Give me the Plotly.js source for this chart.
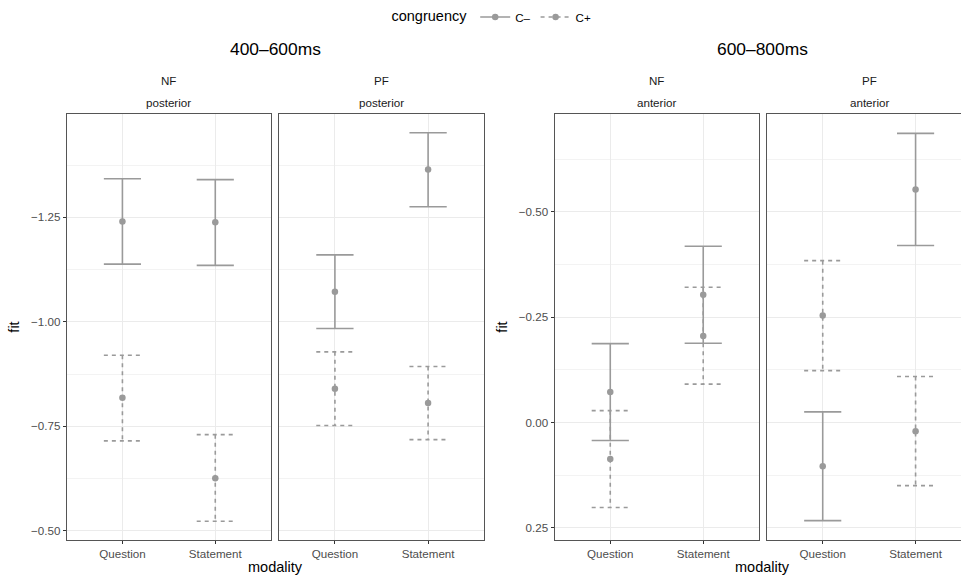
<!DOCTYPE html>
<html>
<head>
<meta charset="utf-8">
<script src="https://cdn.plot.ly/plotly-3.0.1.min.js"></script>
<style>html,body{margin:0;padding:0;background:#fff;}#chart{width:961px;height:578px;}</style>
</head>
<body>
<div id="chart"></div>
<script>
// ---- data ----
const modalities = ["Question", "Statement"];
const congruencyLevels = ["C–", "C+"];
const windowTitles = ["400–600ms", "600–800ms"];
const stripTop = ["NF", "PF", "NF", "PF"];
const stripBottom = ["posterior", "posterior", "anterior", "anterior"];
const yTicks400 = [-1.25, -1.00, -0.75, -0.50];
const yTicks600 = [-0.50, -0.25, 0.00, 0.25];

// 400-600ms, NF, posterior
const nf400_cm_fit = [-1.240, -1.238];
const nf400_cm_lo  = [-1.342, -1.340];
const nf400_cm_hi  = [-1.138, -1.135];
const nf400_cp_fit = [-0.818, -0.626];
const nf400_cp_lo  = [-0.920, -0.730];
const nf400_cp_hi  = [-0.715, -0.523];
// 400-600ms, PF, posterior
const pf400_cm_fit = [-1.072, -1.364];
const pf400_cm_lo  = [-1.160, -1.452];
const pf400_cm_hi  = [-0.984, -1.275];
const pf400_cp_fit = [-0.840, -0.806];
const pf400_cp_lo  = [-0.928, -0.893];
const pf400_cp_hi  = [-0.752, -0.718];
// 600-800ms, NF, anterior
const nf600_cm_fit = [-0.072, -0.303];
const nf600_cm_lo  = [-0.187, -0.418];
const nf600_cm_hi  = [0.043, -0.188];
const nf600_cp_fit = [0.087, -0.205];
const nf600_cp_lo  = [-0.028, -0.321];
const nf600_cp_hi  = [0.202, -0.091];
// 600-800ms, PF, anterior
const pf600_cm_fit = [0.104, -0.553];
const pf600_cm_lo  = [-0.025, -0.686];
const pf600_cm_hi  = [0.233, -0.420];
const pf600_cp_fit = [-0.254, 0.021];
const pf600_cp_lo  = [-0.384, -0.109];
const pf600_cp_hi  = [-0.123, 0.150];
</script>
<script>
const GREY = "#9a9a9a";
const CAP = 0.2;      // half width of error bar caps (category units)
const PT = 6.5;       // point diameter
const FONT = "Liberation Sans, Arial, sans-serif";
const DASH = "4px,4px";

function barTrace(xa, ya, fit, lo, hi, dash, name) {
  const xs = [], ys = [];
  modalities.forEach((m, i) => {
    const x = i + 1;
    xs.push(x - CAP, x + CAP, null, x, x, null, x - CAP, x + CAP, null);
    ys.push(lo[i], lo[i], null, lo[i], hi[i], null, hi[i], hi[i], null);
  });
  return {
    type: "scatter", mode: "lines", x: xs, y: ys, xaxis: xa, yaxis: ya,
    name: name, legendgroup: name, showlegend: false, connectgaps: false, hoverinfo: "skip",
    line: {color: GREY, width: 1.6, dash: dash}
  };
}
function pointTrace(xa, ya, fit, dash, name, showlegend) {
  const xs = [], ys = [];
  modalities.forEach((m, i) => { xs.push(i + 1, null); ys.push(fit[i], null); });
  return {
    type: "scatter", mode: "lines+markers", x: xs, y: ys, xaxis: xa, yaxis: ya,
    name: name, legendgroup: name, showlegend: showlegend, connectgaps: false, hoverinfo: "skip",
    line: {color: GREY, width: 1.6, dash: dash},
    marker: {color: GREY, size: PT, line: {width: 0}}
  };
}

const panels = [
  ["x", "y", nf400_cm_fit, nf400_cm_lo, nf400_cm_hi, nf400_cp_fit, nf400_cp_lo, nf400_cp_hi],
  ["x2", "y2", pf400_cm_fit, pf400_cm_lo, pf400_cm_hi, pf400_cp_fit, pf400_cp_lo, pf400_cp_hi],
  ["x3", "y3", nf600_cm_fit, nf600_cm_lo, nf600_cm_hi, nf600_cp_fit, nf600_cp_lo, nf600_cp_hi],
  ["x4", "y4", pf600_cm_fit, pf600_cm_lo, pf600_cm_hi, pf600_cp_fit, pf600_cp_lo, pf600_cp_hi]
];
const traces = [];
panels.forEach((p, k) => {
  traces.push(barTrace(p[0], p[1], p[5], p[6], p[7], DASH, congruencyLevels[1]));
  traces.push(barTrace(p[0], p[1], p[2], p[3], p[4], "solid", congruencyLevels[0]));
});
panels.forEach((p, k) => {
  traces.push(pointTrace(p[0], p[1], p[2], "solid", congruencyLevels[0], k === 0));
  traces.push(pointTrace(p[0], p[1], p[5], DASH, congruencyLevels[1], k === 0));
});

const W = 961, H = 578;
const px = v => v / W;
const py = v => 1 - v / H;
const yDom = [py(540), py(114)];
const xDoms = [[px(66.7), px(271)], [px(279), px(484)], [px(554.5), px(759)], [px(767), 1]];
const FRAME = "#555";

function xAxis(i, anchor, range) {
  return {
    domain: xDoms[i], anchor: anchor, range: range, automargin: false,
    tickmode: "array", tickvals: [1, 2], ticktext: modalities,
    ticks: "outside", ticklen: 3, tickcolor: "#333", tickwidth: 1,
    tickfont: {family: FONT, size: 11.6, color: "#4d4d4d"},
    showgrid: true, gridcolor: "#ebebeb", gridwidth: 1, zeroline: false,
    showline: true, mirror: true, linecolor: FRAME, linewidth: 1
  };
}
function yAxis(anchor, range, ticks, labels, title, mirror) {
  return {
    domain: yDom, anchor: anchor, range: range, automargin: false,
    tickmode: "array", tickvals: ticks, tickformat: ".2f", showticklabels: labels,
    ticks: labels ? "outside" : "", ticklen: 3, tickcolor: "#333", tickwidth: 1,
    tickfont: {family: FONT, size: 11.6, color: "#4d4d4d"},
    showgrid: true, gridcolor: "#ebebeb", gridwidth: 1, zeroline: false,
    minor: {dtick: 0.125, tick0: 0.125, showgrid: true, gridcolor: "#f3f3f3", gridwidth: 1, ticks: ""},
    showline: true, mirror: mirror, linecolor: FRAME, linewidth: 1,
    title: title ? {text: title, standoff: 7, font: {family: FONT, size: 14.5, color: "#000"}} : undefined
  };
}

const annotations = [];
const panelCentersX = [(66.7 + 484) / 2, (554.5 + 971) / 2];
windowTitles.forEach((t, i) => annotations.push({
  text: t, xref: "paper", yref: "paper", x: px(panelCentersX[i]), y: py(49),
  xanchor: "center", yanchor: "middle", showarrow: false,
  font: {family: FONT, size: 17.4, color: "#000"}
}));
[0, 1].forEach(i => annotations.push({
  text: "modality", xref: "paper", yref: "paper", x: px(panelCentersX[i]), y: py(567),
  xanchor: "center", yanchor: "middle", showarrow: false,
  font: {family: FONT, size: 14.5, color: "#000"}
}));
const facetCenters = [(66.7 + 271) / 2, (279 + 484) / 2, (554.5 + 759) / 2, (767 + 971) / 2];
facetCenters.forEach((c, i) => {
  annotations.push({text: stripTop[i], xref: "paper", yref: "paper", x: px(c), y: py(80),
    xanchor: "center", yanchor: "middle", showarrow: false,
    font: {family: FONT, size: 11.6, color: "#1a1a1a"}});
  annotations.push({text: stripBottom[i], xref: "paper", yref: "paper", x: px(c), y: py(103),
    xanchor: "center", yanchor: "middle", showarrow: false,
    font: {family: FONT, size: 11.6, color: "#1a1a1a"}});
});

const layout = {
  width: W, height: H,
  margin: {l: 0, r: 0, t: 0, b: 0},
  paper_bgcolor: "#fff", plot_bgcolor: "#fff",
  font: {family: FONT},
  showlegend: true,
  legend: {
    orientation: "h", x: 0.513, xanchor: "center", y: py(17), yanchor: "middle",
    title: {text: "congruency", side: "left", font: {family: FONT, size: 14.5, color: "#000"}},
    font: {family: FONT, size: 11.6, color: "#000"}, itemwidth: 30, bgcolor: "rgba(0,0,0,0)",
    traceorder: "normal"
  },
  xaxis: xAxis(0, "y", [0.4, 2.6]),
  xaxis2: xAxis(1, "y2", [0.4, 2.6]),
  xaxis3: xAxis(2, "y3", [0.4, 2.6]),
  xaxis4: xAxis(3, "y4", [0.4, 0.4 + (961 - 767) / (204.3 / 2.2)]),
  yaxis: yAxis("x", [-0.478, -1.497], yTicks400, true, "fit", true),
  yaxis2: yAxis("x2", [-0.478, -1.497], yTicks400, false, null, true),
  yaxis3: yAxis("x3", [0.279, -0.732], yTicks600, true, "fit", true),
  yaxis4: yAxis("x4", [0.279, -0.732], yTicks600, false, null, false),
  annotations: annotations
};

Plotly.newPlot("chart", traces, layout, {staticPlot: true, displayModeBar: false});
</script>
</body>
</html>
